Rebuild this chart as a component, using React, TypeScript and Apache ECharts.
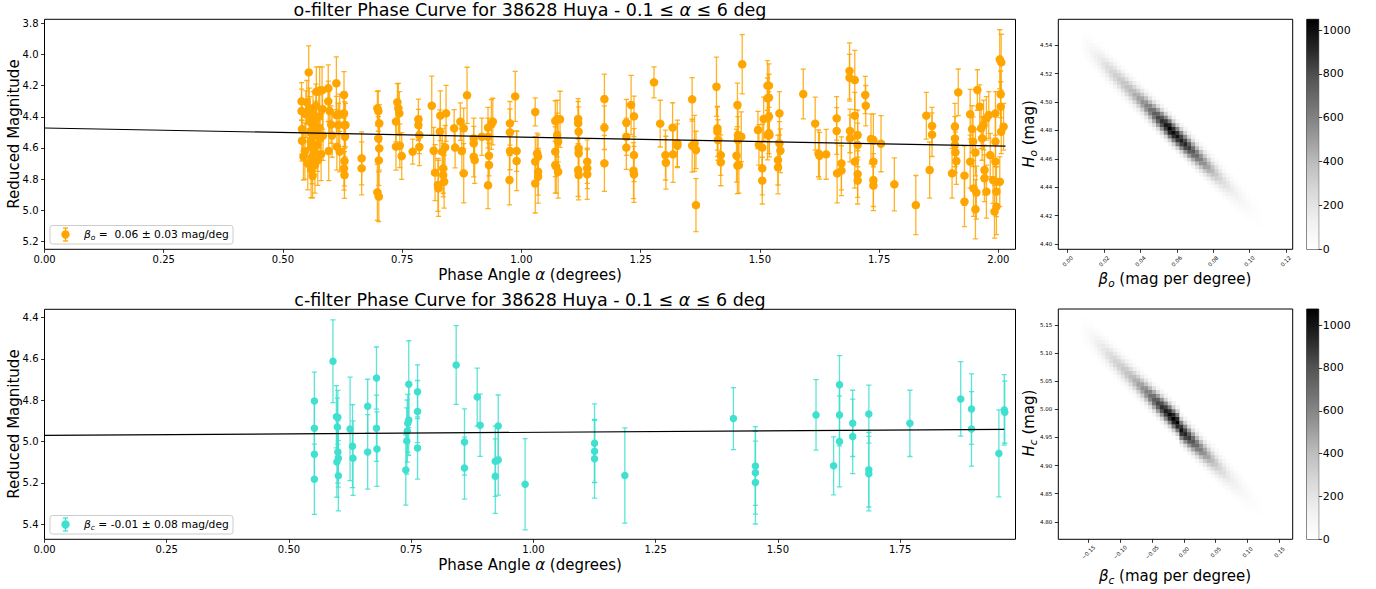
import React, { useEffect, useRef } from "react";
import * as echarts from "echarts";

const FONT = "DejaVu Sans";
const ORANGE = "#FFA500";
const TURQUOISE = "#40E0D0";
// matplotlib "Greys" colormap stops
const GREYS = ["#ffffff", "#f0f0f0", "#d9d9d9", "#bdbdbd", "#969696", "#737373", "#525252", "#252525", "#000000"];

// o-filter observations: [phase angle (deg), reduced magnitude, 1-sigma error]
const oBand: [number, number, number][] = [
  [0.539, 4.301, 0.12], [0.539, 4.363, 0.14], [0.540, 4.479, 0.16], [0.540, 4.554, 0.13],
  [0.543, 4.656, 0.15], [0.546, 4.620, 0.18], [0.548, 4.384, 0.15], [0.550, 4.307, 0.14],
  [0.552, 4.700, 0.17], [0.554, 4.115, 0.17], [0.555, 4.346, 0.13], [0.556, 4.431, 0.16],
  [0.557, 4.500, 0.15], [0.558, 4.560, 0.14], [0.559, 4.740, 0.18], [0.560, 4.594, 0.16],
  [0.561, 4.660, 0.17], [0.562, 4.780, 0.14], [0.563, 4.389, 0.15], [0.564, 4.453, 0.13],
  [0.565, 4.520, 0.16], [0.566, 4.620, 0.15], [0.567, 4.710, 0.18], [0.568, 4.420, 0.12],
  [0.569, 4.330, 0.14], [0.570, 4.239, 0.16], [0.571, 4.500, 0.15], [0.572, 4.580, 0.17],
  [0.573, 4.680, 0.16], [0.575, 4.400, 0.14], [0.576, 4.470, 0.13], [0.577, 4.230, 0.15],
  [0.578, 4.540, 0.14], [0.580, 4.640, 0.17], [0.582, 4.230, 0.15], [0.583, 4.350, 0.13],
  [0.584, 4.520, 0.16], [0.595, 4.217, 0.15], [0.595, 4.301, 0.13], [0.596, 4.620, 0.19],
  [0.598, 4.363, 0.14], [0.601, 4.450, 0.12], [0.603, 4.520, 0.14], [0.612, 4.185, 0.17],
  [0.612, 4.389, 0.12], [0.613, 4.592, 0.15], [0.616, 4.453, 0.14], [0.619, 4.384, 0.13],
  [0.619, 4.624, 0.13], [0.628, 4.260, 0.15], [0.628, 4.378, 0.14], [0.629, 4.453, 0.15],
  [0.630, 4.528, 0.13], [0.629, 4.684, 0.16], [0.628, 4.731, 0.14], [0.629, 4.774, 0.15],
  [0.631, 4.453, 0.14], [0.665, 4.667, 0.17], [0.665, 4.731, 0.17], [0.698, 4.346, 0.11],
  [0.700, 4.363, 0.13], [0.702, 4.442, 0.12], [0.700, 4.539, 0.14], [0.702, 4.603, 0.14],
  [0.701, 4.680, 0.16], [0.698, 4.885, 0.18], [0.701, 4.913, 0.16], [0.737, 4.431, 0.13],
  [0.740, 4.307, 0.12], [0.742, 4.346, 0.16], [0.744, 4.378, 0.14], [0.737, 4.592, 0.15],
  [0.745, 4.586, 0.14], [0.749, 4.652, 0.15], [0.772, 4.624, 0.08], [0.784, 4.416, 0.13],
  [0.784, 4.453, 0.10], [0.786, 4.517, 0.12], [0.786, 4.594, 0.12], [0.812, 4.329, 0.19],
  [0.816, 4.618, 0.15], [0.819, 4.759, 0.18], [0.825, 4.838, 0.17], [0.826, 4.860, 0.18],
  [0.829, 4.496, 0.14], [0.830, 4.393, 0.16], [0.834, 4.624, 0.15], [0.836, 4.731, 0.16],
  [0.836, 4.774, 0.14], [0.838, 4.817, 0.17], [0.842, 4.378, 0.18], [0.840, 4.596, 0.14],
  [0.859, 4.474, 0.12], [0.861, 4.598, 0.13], [0.872, 4.431, 0.12], [0.875, 4.620, 0.14],
  [0.879, 4.474, 0.13], [0.879, 4.763, 0.19], [0.886, 4.262, 0.18], [0.900, 4.539, 0.13],
  [0.900, 4.571, 0.11], [0.900, 4.656, 0.13], [0.902, 4.678, 0.15], [0.917, 4.528, 0.12],
  [0.930, 4.470, 0.13], [0.930, 4.528, 0.12], [0.932, 4.650, 0.13], [0.932, 4.710, 0.14],
  [0.930, 4.840, 0.15], [0.937, 4.449, 0.16], [0.940, 4.431, 0.15], [0.976, 4.442, 0.14],
  [0.976, 4.500, 0.15], [0.976, 4.620, 0.12], [0.975, 4.806, 0.16], [0.987, 4.269, 0.16],
  [0.990, 4.620, 0.13], [0.990, 4.684, 0.19],
  [1.029, 4.369, 0.09], [1.029, 4.688, 0.16], [1.033, 4.635, 0.13], [1.035, 4.656, 0.14],
  [1.029, 4.828, 0.19], [1.035, 4.753, 0.15], [1.035, 4.785, 0.17], [1.071, 4.427, 0.13],
  [1.075, 4.414, 0.12], [1.081, 4.416, 0.18], [1.075, 4.517, 0.14], [1.077, 4.560, 0.13],
  [1.071, 4.624, 0.16], [1.071, 4.710, 0.18], [1.073, 4.720, 0.17], [1.077, 4.753, 0.17],
  [1.119, 4.414, 0.13], [1.119, 4.442, 0.14], [1.120, 4.496, 0.16], [1.120, 4.603, 0.15],
  [1.120, 4.635, 0.14], [1.119, 4.742, 0.17], [1.120, 4.774, 0.16], [1.138, 4.688, 0.14],
  [1.138, 4.731, 0.13], [1.138, 4.770, 0.16], [1.174, 4.286, 0.16], [1.174, 4.470, 0.14],
  [1.174, 4.699, 0.18], [1.220, 4.438, 0.15], [1.220, 4.528, 0.12], [1.220, 4.598, 0.14],
  [1.230, 4.324, 0.19], [1.236, 4.397, 0.13], [1.236, 4.646, 0.17], [1.235, 4.746, 0.18],
  [1.236, 4.770, 0.18], [1.278, 4.179, 0.10], [1.291, 4.444, 0.15], [1.302, 4.646, 0.16],
  [1.303, 4.695, 0.17], [1.317, 4.470, 0.16], [1.318, 4.641, 0.18], [1.327, 4.571, 0.15],
  [1.327, 4.586, 0.14], [1.358, 4.288, 0.14], [1.358, 4.586, 0.17], [1.363, 4.571, 0.18],
  [1.366, 4.613, 0.12], [1.366, 4.967, 0.17], [1.409, 4.207, 0.19], [1.411, 4.474, 0.14],
  [1.411, 4.496, 0.16], [1.412, 4.549, 0.13], [1.418, 4.646, 0.13], [1.418, 4.693, 0.15],
  [1.453, 4.324, 0.14], [1.454, 4.517, 0.17], [1.454, 4.549, 0.15], [1.461, 4.528, 0.16],
  [1.451, 4.650, 0.17], [1.453, 4.714, 0.18], [1.456, 4.710, 0.18], [1.463, 4.063, 0.19],
  [1.496, 4.485, 0.12], [1.498, 4.581, 0.13], [1.505, 4.598, 0.15], [1.505, 4.731, 0.17],
  [1.505, 4.810, 0.15], [1.508, 4.414, 0.14], [1.516, 4.200, 0.16], [1.516, 4.281, 0.13],
  [1.516, 4.517, 0.16],
  [1.519, 4.200, 0.14], [1.519, 4.277, 0.15], [1.519, 4.399, 0.16], [1.519, 4.506, 0.13],
  [1.520, 4.517, 0.14], [1.538, 4.678, 0.16], [1.538, 4.725, 0.17], [1.541, 4.378, 0.14],
  [1.541, 4.571, 0.14], [1.543, 4.618, 0.14], [1.591, 4.254, 0.16], [1.616, 4.444, 0.17],
  [1.623, 4.635, 0.15], [1.625, 4.650, 0.15], [1.639, 4.641, 0.16], [1.661, 4.410, 0.14],
  [1.661, 4.491, 0.15], [1.671, 4.699, 0.17], [1.671, 4.746, 0.16], [1.662, 4.763, 0.19],
  [1.688, 4.106, 0.18], [1.688, 4.149, 0.15], [1.699, 4.164, 0.19], [1.689, 4.491, 0.14],
  [1.689, 4.539, 0.15], [1.699, 4.393, 0.15], [1.699, 4.688, 0.17], [1.705, 4.517, 0.16],
  [1.705, 4.581, 0.14], [1.705, 4.768, 0.15], [1.705, 4.810, 0.15], [1.721, 4.260, 0.12],
  [1.722, 4.329, 0.13], [1.733, 4.543, 0.16], [1.738, 4.551, 0.17], [1.738, 4.688, 0.16],
  [1.738, 4.806, 0.17], [1.738, 4.842, 0.16], [1.754, 4.573, 0.18], [1.782, 4.834, 0.17],
  [1.827, 4.967, 0.19], [1.849, 4.393, 0.15], [1.861, 4.459, 0.12], [1.861, 4.515, 0.14],
  [1.856, 4.742, 0.18], [1.903, 4.763, 0.16], [1.909, 4.464, 0.15], [1.909, 4.539, 0.14],
  [1.910, 4.628, 0.13], [1.912, 4.684, 0.15], [1.916, 4.243, 0.15], [1.909, 4.581, 0.14],
  [1.929, 4.778, 0.19], [1.929, 4.945, 0.16], [1.941, 4.384, 0.16], [1.941, 4.688, 0.17],
  [1.945, 4.479, 0.15], [1.947, 4.560, 0.16], [1.948, 4.860, 0.18], [1.952, 4.630, 0.15],
  [1.954, 4.887, 0.17], [1.952, 4.994, 0.19], [1.956, 4.228, 0.13], [1.961, 4.335, 0.14],
  [1.964, 4.474, 0.13], [1.966, 4.539, 0.14], [1.969, 4.453, 0.16], [1.971, 4.795, 0.15],
  [1.971, 4.742, 0.16], [1.975, 4.881, 0.17], [1.975, 4.410, 0.14], [1.980, 4.389, 0.15],
  [1.983, 4.646, 0.14], [1.989, 4.806, 0.15], [1.992, 5.009, 0.17], [1.994, 4.378, 0.14],
  [1.996, 4.881, 0.16], [1.996, 4.977, 0.18], [1.994, 4.688, 0.15], [1.994, 4.560, 0.16],
  [2.003, 4.031, 0.19], [2.006, 4.050, 0.18], [2.005, 4.256, 0.15], [2.005, 4.335, 0.16],
  [2.006, 4.496, 0.14], [2.011, 4.464, 0.15], [2.003, 4.817, 0.16],
];

// c-filter observations: [phase angle (deg), reduced magnitude, 1-sigma error]
const cBand: [number, number, number][] = [
  [0.552, 4.804, 0.14], [0.552, 4.936, 0.13], [0.552, 5.061, 0.13], [0.552, 5.182, 0.17],
  [0.590, 4.612, 0.20], [0.597, 4.880, 0.15], [0.600, 4.883, 0.13], [0.599, 4.930, 0.14],
  [0.600, 5.050, 0.15], [0.598, 5.099, 0.17], [0.601, 5.080, 0.14], [0.601, 5.165, 0.17],
  [0.625, 4.939, 0.25], [0.630, 5.022, 0.20], [0.631, 5.080, 0.18], [0.661, 4.829, 0.13],
  [0.661, 5.050, 0.18], [0.679, 4.693, 0.15], [0.679, 4.936, 0.16], [0.680, 5.036, 0.18],
  [0.739, 5.137, 0.17], [0.741, 4.997, 0.16], [0.742, 4.949, 0.15], [0.743, 4.912, 0.14],
  [0.745, 4.896, 0.17], [0.745, 4.723, 0.21], [0.763, 4.759, 0.13], [0.763, 4.855, 0.15],
  [0.763, 5.031, 0.15], [0.842, 4.630, 0.19], [0.859, 5.002, 0.16], [0.859, 5.128, 0.15],
  [0.885, 4.785, 0.14], [0.891, 4.921, 0.15], [0.922, 5.095, 0.17], [0.922, 5.167, 0.18],
  [0.928, 4.925, 0.15], [0.928, 5.089, 0.17], [0.983, 5.206, 0.22], [1.125, 5.008, 0.19],
  [1.125, 5.047, 0.15], [1.125, 5.083, 0.19], [1.187, 5.164, 0.23], [1.409, 4.889, 0.15],
  [1.454, 5.118, 0.19], [1.454, 5.150, 0.20], [1.454, 5.198, 0.20], [1.578, 4.871, 0.17],
  [1.614, 5.117, 0.14], [1.626, 4.725, 0.14], [1.626, 4.871, 0.15], [1.626, 4.999, 0.22],
  [1.653, 4.912, 0.16], [1.653, 4.975, 0.18], [1.686, 4.867, 0.14], [1.686, 5.136, 0.18],
  [1.686, 5.155, 0.18], [1.770, 4.912, 0.16], [1.874, 4.794, 0.18], [1.896, 4.843, 0.17],
  [1.896, 4.939, 0.18], [1.952, 5.057, 0.21], [1.963, 4.847, 0.17], [1.964, 4.858, 0.15],
];

// Best-fit linear phase curves, endpoints [alpha, H + beta * alpha]
const oFitLine = [[0, 4.472], [2.015, 4.589]];
const cFitLine = [[0, 4.970], [1.963, 4.941]];

// Posterior 2-D histograms: 60 x 60 bins over (beta, H)
const oBins = { betaMin: -0.0052, betaStep: 0.00215, hMin: 4.3963, hStep: 0.0027, n: 60 };
const cBins = { betaMin: -0.197, betaStep: 0.00613, hMin: 4.769, hStep: 0.00682, n: 60 };

// Each row: [beta bin, first H bin, counts for consecutive H bins upward]
const oHistCols: number[][] = [
  [6, 49, 3, 9, 18, 26, 30, 27, 18, 9, 3],
  [7, 48, 6, 16, 33, 48, 55, 49, 33, 17, 5],
  [8, 47, 8, 26, 51, 75, 85, 74, 52, 25, 9],
  [9, 46, 12, 36, 73, 106, 121, 107, 72, 37, 12],
  [10, 45, 16, 48, 96, 141, 160, 140, 97, 48, 16],
  [11, 44, 20, 60, 119, 175, 199, 176, 120, 59, 20],
  [12, 43, 24, 72, 145, 212, 241, 211, 144, 73, 24],
  [13, 42, 28, 83, 165, 243, 276, 242, 166, 82, 27],
  [14, 41, 30, 91, 183, 267, 304, 268, 182, 92, 31],
  [15, 40, 33, 99, 199, 291, 331, 292, 198, 100, 33],
  [16, 39, 35, 106, 212, 312, 354, 311, 213, 107, 35],
  [17, 38, 38, 114, 229, 335, 381, 336, 228, 115, 38],
  [18, 37, 41, 123, 245, 360, 409, 359, 246, 122, 41],
  [19, 36, 45, 134, 268, 392, 446, 393, 267, 134, 44],
  [20, 35, 49, 147, 293, 430, 489, 431, 294, 146, 49],
  [21, 34, 54, 162, 325, 476, 541, 475, 324, 163, 54],
  [22, 33, 60, 180, 359, 527, 599, 528, 360, 179, 60],
  [23, 32, 67, 200, 400, 586, 666, 585, 399, 201, 66],
  [24, 31, 74, 222, 443, 650, 739, 651, 444, 221, 74],
  [25, 30, 82, 245, 490, 718, 816, 717, 489, 246, 81],
  [26, 29, 88, 265, 530, 778, 884, 779, 531, 264, 89],
  [27, 28, 96, 288, 577, 846, 961, 845, 576, 289, 96],
  [28, 27, 105, 315, 629, 923, 1049, 922, 630, 314, 104],
  [29, 26, 101, 303, 607, 890, 1011, 889, 606, 304, 101],
  [30, 25, 98, 295, 590, 866, 984, 867, 591, 294, 99],
  [31, 24, 95, 285, 571, 837, 951, 836, 570, 286, 95],
  [32, 23, 91, 274, 548, 804, 914, 805, 549, 273, 92],
  [33, 22, 85, 255, 511, 749, 851, 748, 510, 256, 85],
  [34, 21, 76, 229, 458, 672, 764, 673, 459, 230, 77],
  [35, 20, 69, 206, 412, 604, 686, 603, 411, 205, 68],
  [36, 19, 61, 183, 365, 536, 609, 535, 366, 182, 61],
  [37, 18, 55, 164, 328, 480, 546, 481, 327, 163, 54],
  [38, 17, 48, 144, 287, 422, 479, 421, 288, 143, 48],
  [39, 16, 41, 123, 247, 362, 411, 361, 246, 124, 41],
  [40, 15, 34, 103, 206, 303, 344, 302, 207, 104, 35],
  [41, 14, 29, 86, 172, 252, 286, 251, 171, 85, 28],
  [42, 13, 23, 70, 140, 206, 234, 205, 141, 71, 24],
  [43, 12, 19, 57, 115, 168, 191, 169, 114, 58, 19],
  [44, 11, 15, 45, 89, 131, 149, 132, 90, 44, 15],
  [45, 10, 12, 36, 73, 106, 121, 107, 72, 37, 12],
  [46, 9, 9, 27, 55, 80, 91, 81, 54, 28, 9],
  [47, 8, 7, 21, 41, 61, 69, 60, 42, 20, 7],
  [48, 7, 5, 14, 28, 41, 47, 42, 29, 14, 4],
  [49, 6, 3, 10, 20, 30, 34, 29, 21, 10, 3],
  [50, 5, 2, 6, 12, 18, 20, 17, 12, 6, 2],
  [51, 4, 1, 3, 7, 10, 11, 9, 6, 3, 1],
];

const cHistCols: number[][] = [
  [6, 50, 3, 8, 15, 22, 25, 22, 15, 7, 2],
  [7, 49, 4, 14, 27, 40, 45, 39, 27, 13, 5],
  [8, 48, 8, 23, 46, 67, 76, 66, 45, 23, 7],
  [9, 47, 11, 33, 65, 96, 109, 95, 66, 32, 11],
  [10, 46, 15, 45, 91, 133, 151, 132, 90, 46, 15],
  [11, 45, 19, 57, 113, 166, 189, 167, 114, 56, 19],
  [12, 44, 23, 69, 139, 203, 231, 204, 138, 70, 23],
  [13, 43, 26, 79, 158, 232, 264, 233, 159, 78, 27],
  [14, 42, 30, 89, 178, 260, 296, 261, 177, 88, 29],
  [15, 41, 32, 96, 191, 281, 319, 280, 192, 95, 32],
  [16, 40, 35, 104, 208, 304, 346, 305, 207, 103, 34],
  [17, 39, 37, 112, 224, 329, 374, 330, 225, 113, 38],
  [18, 38, 41, 123, 247, 362, 411, 361, 246, 124, 41],
  [19, 37, 45, 135, 269, 395, 449, 396, 270, 134, 45],
  [20, 36, 50, 150, 301, 441, 501, 440, 300, 151, 50],
  [21, 35, 55, 166, 332, 488, 554, 487, 333, 165, 56],
  [22, 34, 62, 186, 373, 546, 621, 547, 372, 187, 62],
  [23, 33, 69, 207, 413, 606, 689, 607, 414, 206, 69],
  [24, 32, 77, 230, 460, 674, 766, 673, 459, 229, 76],
  [25, 31, 84, 252, 503, 738, 839, 739, 504, 251, 84],
  [26, 30, 91, 273, 547, 802, 911, 801, 546, 274, 91],
  [27, 29, 97, 292, 584, 857, 974, 858, 585, 291, 98],
  [28, 28, 103, 309, 619, 907, 1031, 908, 618, 310, 103],
  [29, 27, 108, 323, 645, 946, 1075, 945, 646, 322, 107],
  [30, 26, 106, 318, 635, 932, 1059, 933, 636, 317, 106],
  [31, 24, 101, 303, 607, 890, 1011, 889, 606, 304, 101],
  [32, 23, 95, 285, 569, 835, 949, 836, 570, 284, 95],
  [33, 22, 88, 263, 526, 771, 876, 770, 525, 264, 87],
  [34, 21, 79, 237, 475, 696, 791, 697, 474, 238, 79],
  [35, 20, 70, 211, 422, 620, 704, 619, 423, 212, 71],
  [36, 19, 63, 188, 376, 551, 626, 550, 375, 189, 62],
  [37, 18, 55, 165, 329, 483, 549, 484, 330, 164, 55],
  [38, 17, 48, 144, 289, 423, 481, 424, 288, 145, 48],
  [39, 16, 41, 123, 245, 360, 409, 359, 246, 122, 41],
  [40, 15, 35, 104, 208, 304, 346, 305, 207, 103, 34],
  [41, 14, 28, 85, 170, 250, 284, 251, 171, 86, 29],
  [42, 13, 23, 69, 139, 203, 231, 204, 138, 70, 23],
  [43, 12, 18, 55, 110, 162, 184, 161, 111, 56, 19],
  [44, 11, 15, 44, 88, 128, 146, 129, 87, 43, 14],
  [45, 10, 11, 33, 67, 98, 111, 97, 66, 34, 11],
  [46, 9, 9, 26, 52, 76, 86, 75, 51, 25, 8],
  [47, 8, 6, 18, 37, 54, 61, 53, 36, 19, 6],
  [48, 7, 5, 14, 27, 40, 45, 39, 26, 13, 4],
  [49, 6, 3, 9, 17, 26, 29, 25, 18, 9, 3],
  [50, 5, 2, 5, 11, 16, 18, 16, 10, 5, 2],
  [51, 4, 1, 3, 6, 9, 10, 9, 6, 3, 1],
];

// Tick values
const oAlphaTicks = [0, 0.25, 0.5, 0.75, 1.0, 1.25, 1.5, 1.75, 2.0];
const cAlphaTicks = [0, 0.25, 0.5, 0.75, 1.0, 1.25, 1.5, 1.75];
const oMagTicks = [3.8, 4.0, 4.2, 4.4, 4.6, 4.8, 5.0, 5.2];
const cMagTicks = [4.4, 4.6, 4.8, 5.0, 5.2, 5.4];
const oBetaTicks = [0, 0.02, 0.04, 0.06, 0.08, 0.1, 0.12];
const oHTicks = [4.4, 4.42, 4.44, 4.46, 4.48, 4.5, 4.52, 4.54];
const cBetaTicks = [-0.15, -0.1, -0.05, 0, 0.05, 0.1, 0.15];
const cHTicks = [4.8, 4.85, 4.9, 4.95, 5.0, 5.05, 5.1, 5.15];
const countTicks = [0, 200, 400, 600, 800, 1000];

const fmt = (d: number) => (v: number) => {
  const s = Math.abs(v).toFixed(d);
  return v < -1e-9 ? "\u2212" + s : s;
};

const rich = (size: number) => ({
  n: { fontFamily: FONT, fontSize: size, lineHeight: size * 1.2, fill: "#000", color: "#000" },
  i: { fontFamily: FONT, fontSize: size, fontStyle: "italic", lineHeight: size * 1.2, fill: "#000", color: "#000" },
  s: {
    fontFamily: FONT, fontSize: size * 0.7, fontStyle: "italic", lineHeight: size * 0.5,
    verticalAlign: "bottom", fill: "#000", color: "#000",
  },
});

const tick = (values: number[]) => ({
  show: true, length: 3.5, customValues: values, lineStyle: { color: "#000", width: 0.8 },
});

const label = (values: number[], d: number, size: number, margin: number, extra: any = {}) => ({
  customValues: values, formatter: fmt(d), fontFamily: FONT, fontSize: size, color: "#000", margin, ...extra,
});

const noLine = { show: false, onZero: false };

const frame = { show: true, borderColor: "#000", borderWidth: 1, backgroundColor: "rgba(0,0,0,0)", outerBoundsMode: "none" };

function errorBars(obs: [number, number, number][], axis: number, color: string) {
  return {
    type: "custom", xAxisIndex: axis, yAxisIndex: axis, clip: true, silent: true, z: 2,
    data: obs.map(([a, m, e]) => [a, m - e, m + e]),
    encode: { x: 0, y: [1, 2] },
    renderItem: (_p: any, api: any) => {
      const a = api.value(0);
      const p1 = api.coord([a, api.value(1)]);
      const p2 = api.coord([a, api.value(2)]);
      const cap = 2.6;
      const style = { stroke: color, lineWidth: 1.3, opacity: 0.85 };
      return {
        type: "group",
        children: [
          { type: "line", shape: { x1: p1[0], y1: p1[1], x2: p2[0], y2: p2[1] }, style },
          { type: "line", shape: { x1: p1[0] - cap, y1: p1[1], x2: p1[0] + cap, y2: p1[1] }, style },
          { type: "line", shape: { x1: p2[0] - cap, y1: p2[1], x2: p2[0] + cap, y2: p2[1] }, style },
        ],
      };
    },
  };
}

function histCells(cols: number[][], bins: any) {
  const cells: number[][] = [];
  cols.forEach(([i, j0, ...counts]) => {
    counts.forEach((c, k) => {
      cells.push([bins.betaMin + (i + 0.5) * bins.betaStep, bins.hMin + (j0 + k + 0.5) * bins.hStep, c]);
    });
  });
  return cells;
}

function histSeries(cols: number[][], bins: any, axis: number) {
  return {
    type: "custom", xAxisIndex: axis, yAxisIndex: axis, clip: true, silent: true,
    data: histCells(cols, bins),
    encode: { x: 0, y: 1 },
    renderItem: (_p: any, api: any) => {
      const b = api.value(0);
      const h = api.value(1);
      const tl = api.coord([b - bins.betaStep / 2, h + bins.hStep / 2]);
      const br = api.coord([b + bins.betaStep / 2, h - bins.hStep / 2]);
      return {
        type: "rect",
        shape: { x: tl[0], y: tl[1], width: br[0] - tl[0] + 0.4, height: br[1] - tl[1] + 0.4 },
        style: { fill: api.visual("color") },
      };
    },
  };
}

function colorbarSeries(max: number, axis: number) {
  const stops = GREYS.map((c, k) => ({ offset: k / (GREYS.length - 1), color: c }));
  return {
    type: "custom", xAxisIndex: axis, yAxisIndex: axis, silent: true,
    data: [[0, 0]],
    renderItem: (_p: any, api: any) => {
      const tl = api.coord([0, max]);
      const br = api.coord([1, 0]);
      return {
        type: "rect",
        shape: { x: tl[0], y: tl[1], width: br[0] - tl[0], height: br[1] - tl[1] },
        style: { fill: new echarts.graphic.LinearGradient(0, 1, 0, 0, stops) },
      };
    },
  };
}

const maxCount = (cols: number[][]) => Math.max(...cols.map((c) => Math.max(...c.slice(2))));

function text(x: number, y: number, str: string, size: number, rotate = false, align = "center") {
  return {
    type: "text", x, y, z: 100, rotation: rotate ? Math.PI / 2 : 0, silent: true,
    style: {
      text: str, rich: rich(size), align, textAlign: align,
      verticalAlign: "middle", textVerticalAlign: "middle", fontFamily: FONT, fontSize: size, fill: "#000",
    },
  };
}

function legendBox(y: number, color: string, str: string) {
  const cx = 65.5;
  const cy = y + 9;
  const line = { stroke: color, lineWidth: 1.3 };
  return [
    { type: "rect", z: 100, silent: true, shape: { x: 50, y, width: 183, height: 18.5, r: 2.5 },
      style: { fill: "rgba(255,255,255,0.85)", stroke: "#cccccc", lineWidth: 1 } },
    { type: "line", z: 101, silent: true, shape: { x1: cx, y1: cy - 6.5, x2: cx, y2: cy + 6.5 }, style: line },
    { type: "line", z: 101, silent: true, shape: { x1: cx - 2.6, y1: cy - 6.5, x2: cx + 2.6, y2: cy - 6.5 }, style: line },
    { type: "line", z: 101, silent: true, shape: { x1: cx - 2.6, y1: cy + 6.5, x2: cx + 2.6, y2: cy + 6.5 }, style: line },
    { type: "circle", z: 102, silent: true, shape: { cx, cy, r: 4.2 }, style: { fill: color } },
    text(84, cy, str, 10.7, false, "left"),
  ];
}

export default function App() {
  const ref = useRef<HTMLDivElement>(null);

  useEffect(() => {
    if (!ref.current) return;
    const chart = echarts.init(ref.current, undefined, { renderer: "svg" });
    const oMax = maxCount(oHistCols);
    const cMax = maxCount(cHistCols);
    const alphaLabel = (ticks: number[]) => label(ticks, 2, 10, 5, { lineHeight: 11 });

    const option: any = {
      animation: false,
      backgroundColor: "#ffffff",
      textStyle: { fontFamily: FONT },
      grid: [
        { left: 44.5, top: 19.3, width: 971, height: 230, ...frame },
        { left: 44.5, top: 309.3, width: 971, height: 230, ...frame },
        { left: 1058.3, top: 19.3, width: 234.4, height: 230, ...frame },
        { left: 1058.3, top: 309, width: 234.4, height: 230.3, ...frame },
        { left: 1306.7, top: 19.3, width: 12, height: 230, ...frame, borderWidth: 0.8 },
        { left: 1306.7, top: 309, width: 12, height: 230.3, ...frame, borderWidth: 0.8 },
      ],
      xAxis: [
        { type: "value", gridIndex: 0, min: 0, max: 2.036, splitLine: { show: false }, axisLine: noLine,
          axisTick: tick(oAlphaTicks), axisLabel: alphaLabel(oAlphaTicks) },
        { type: "value", gridIndex: 1, min: 0, max: 1.986, splitLine: { show: false }, axisLine: noLine,
          axisTick: tick(cAlphaTicks), axisLabel: alphaLabel(cAlphaTicks) },
        { type: "value", gridIndex: 2, min: oBins.betaMin, max: oBins.betaMin + oBins.n * oBins.betaStep,
          splitLine: { show: false }, axisLine: noLine, axisTick: tick(oBetaTicks),
          axisLabel: label(oBetaTicks, 2, 5.5, 12, { rotate: 45, align: "center", verticalAlign: "middle" }) },
        { type: "value", gridIndex: 3, min: cBins.betaMin, max: cBins.betaMin + cBins.n * cBins.betaStep,
          splitLine: { show: false }, axisLine: noLine, axisTick: tick(cBetaTicks),
          axisLabel: label(cBetaTicks, 2, 5.5, 13, { rotate: 45, align: "center", verticalAlign: "middle" }) },
        { type: "value", gridIndex: 4, min: 0, max: 1, show: false },
        { type: "value", gridIndex: 5, min: 0, max: 1, show: false },
      ],
      yAxis: [
        { type: "value", gridIndex: 0, inverse: true, min: 3.774, max: 5.251, splitLine: { show: false },
          axisLine: noLine, axisTick: tick(oMagTicks), axisLabel: label(oMagTicks, 1, 10, 6) },
        { type: "value", gridIndex: 1, inverse: true, min: 4.361, max: 5.472, splitLine: { show: false },
          axisLine: noLine, axisTick: tick(cMagTicks), axisLabel: label(cMagTicks, 1, 10, 6) },
        { type: "value", gridIndex: 2, min: oBins.hMin, max: oBins.hMin + oBins.n * oBins.hStep,
          splitLine: { show: false }, axisLine: noLine, axisTick: tick(oHTicks),
          axisLabel: label(oHTicks, 2, 5.5, 6) },
        { type: "value", gridIndex: 3, min: cBins.hMin, max: cBins.hMin + cBins.n * cBins.hStep,
          splitLine: { show: false }, axisLine: noLine, axisTick: tick(cHTicks),
          axisLabel: label(cHTicks, 2, 5.5, 6) },
        { type: "value", gridIndex: 4, position: "right", min: 0, max: oMax, splitLine: { show: false },
          axisLine: noLine, axisTick: tick(countTicks), axisLabel: label(countTicks, 0, 11, 4) },
        { type: "value", gridIndex: 5, position: "right", min: 0, max: cMax, splitLine: { show: false },
          axisLine: noLine, axisTick: tick(countTicks), axisLabel: label(countTicks, 0, 11, 4) },
      ],
      visualMap: [
        { type: "continuous", show: false, seriesIndex: 6, dimension: 2, min: 0, max: oMax, inRange: { color: GREYS } },
        { type: "continuous", show: false, seriesIndex: 7, dimension: 2, min: 0, max: cMax, inRange: { color: GREYS } },
      ],
      series: [
        errorBars(oBand, 0, ORANGE),
        { type: "scatter", xAxisIndex: 0, yAxisIndex: 0, silent: true, z: 3, symbolSize: 8.5,
          itemStyle: { color: ORANGE, opacity: 1 }, data: oBand.map(([a, m]) => [a, m]) },
        { type: "line", xAxisIndex: 0, yAxisIndex: 0, silent: true, z: 4, symbol: "none",
          lineStyle: { color: "#000", width: 1.2 }, data: oFitLine },
        errorBars(cBand, 1, TURQUOISE),
        { type: "scatter", xAxisIndex: 1, yAxisIndex: 1, silent: true, z: 3, symbolSize: 7.5,
          itemStyle: { color: TURQUOISE, opacity: 1 }, data: cBand.map(([a, m]) => [a, m]) },
        { type: "line", xAxisIndex: 1, yAxisIndex: 1, silent: true, z: 4, symbol: "none",
          lineStyle: { color: "#000", width: 1.2 }, data: cFitLine },
        histSeries(oHistCols, oBins, 2),
        histSeries(cHistCols, cBins, 3),
        colorbarSeries(oMax, 4),
        colorbarSeries(cMax, 5),
      ],
      graphic: [
        text(530, 10, "{n|o-filter Phase Curve for 38628 Huya - 0.1 ≤ }{i|α}{n| ≤ 6 deg}", 17.5),
        text(530, 300, "{n|c-filter Phase Curve for 38628 Huya - 0.1 ≤ }{i|α}{n| ≤ 6 deg}", 17.5),
        text(530, 274.5, "{n|Phase Angle }{i|α}{n| (degrees)}", 15),
        text(530, 564.5, "{n|Phase Angle }{i|α}{n| (degrees)}", 15),
        text(14, 134, "{n|Reduced Magnitude}", 15, true),
        text(14, 424, "{n|Reduced Magnitude}", 15, true),
        text(1175, 279, "{i|β}{s|o}{n| (mag per degree)}", 15),
        text(1175, 576, "{i|β}{s|c}{n| (mag per degree)}", 15),
        text(1029, 134, "{i|H}{s|o}{n| (mag)}", 15, true),
        text(1029, 423, "{i|H}{s|c}{n| (mag)}", 15, true),
        ...legendBox(225.5, ORANGE, "{i|β}{s|o}{n| =  0.06 ± 0.03 mag/deg}"),
        ...legendBox(515.5, TURQUOISE, "{i|β}{s|c}{n| = -0.01 ± 0.08 mag/deg}"),
      ],
    };

    chart.setOption(option);
    return () => chart.dispose();
  }, []);

  return (
    <div
      ref={ref}
      style={{ position: "absolute", left: 0, top: 0, width: 1376, height: 589, background: "#fff" }}
    />
  );
}
